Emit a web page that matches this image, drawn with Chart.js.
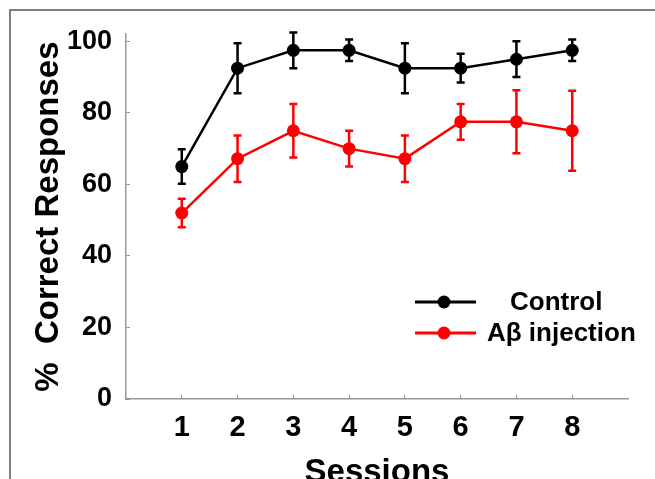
<!DOCTYPE html>
<html>
<head>
<meta charset="utf-8">
<script src="https://cdn.jsdelivr.net/npm/chart.js@4/dist/chart.umd.min.js"></script>
<style>
  html, body { margin: 0; padding: 0; background: #fff; overflow: hidden; }
  #wrap { position: relative; width: 655px; height: 479px; overflow: hidden; }
  #frame { position: absolute; left: 9px; top: 9px; width: 700px; height: 600px; border: 2px solid #7f7f7f; box-sizing: border-box; }
  #cv { position: absolute; left: 0; top: 0; }
</style>
</head>
<body>
<div id="wrap">
  <div id="frame"></div>
  <canvas id="cv" width="655" height="493"></canvas>
</div>
<script>
// ---- data ----
const sessions = [1, 2, 3, 4, 5, 6, 7, 8];
const controlMean = [65, 92.5, 97.5, 97.5, 92.5, 92.5, 95, 97.5];
const controlErr  = [4.8, 7, 5, 3, 7, 4, 5, 3];
const abetaMean   = [52, 67.2, 75, 70, 67.2, 77.5, 77.5, 75];
const abetaErr    = [4, 6.5, 7.5, 5, 6.5, 5, 8.8, 11.2];
const yTicks = [0, 20, 40, 60, 80, 100];
const seriesNames = ['Control', 'A\u03B2 injection'];

const FONT = '"Liberation Sans", Arial, Helvetica, sans-serif';

const errorBars = {
  id: 'errorBars',
  afterDatasetsDraw(chart) {
    const ctx = chart.ctx;
    const xs = chart.scales.x, ys = chart.scales.y;
    chart.data.datasets.forEach((ds) => {
      ctx.save();
      ctx.strokeStyle = ds.borderColor;
      ctx.lineWidth = 2.5;
      ds.data.forEach((p, i) => {
        const e = ds.errors[i];
        const x = xs.getPixelForValue(p.x);
        const yt = ys.getPixelForValue(p.y + e);
        const yb = ys.getPixelForValue(p.y - e);
        ctx.beginPath();
        ctx.moveTo(x, yt); ctx.lineTo(x, yb);
        ctx.moveTo(x - 4, yt); ctx.lineTo(x + 4, yt);
        ctx.moveTo(x - 4, yb); ctx.lineTo(x + 4, yb);
        ctx.stroke();
      });
      ctx.restore();
    });
  }
};

const customLegend = {
  id: 'customLegend',
  afterDraw(chart) {
    const ctx = chart.ctx;
    const rows = [
      { y: 302, tx: 510 },
      { y: 333, tx: 487 }
    ];
    chart.data.datasets.forEach((ds, i) => {
      const r = rows[i];
      ctx.save();
      ctx.strokeStyle = ds.borderColor;
      ctx.lineWidth = 3;
      ctx.beginPath();
      ctx.moveTo(415, r.y); ctx.lineTo(476, r.y);
      ctx.stroke();
      ctx.fillStyle = ds.borderColor;
      ctx.beginPath();
      ctx.arc(444, r.y, 6.5, 0, Math.PI * 2);
      ctx.fill();
      ctx.fillStyle = '#000';
      ctx.font = 'bold 26px ' + FONT;
      ctx.textBaseline = 'middle';
      ctx.textAlign = 'left';
      ctx.fillText(ds.label, r.tx, r.y + 1);
      ctx.restore();
    });
  }
};

const mk = (xs, ys) => xs.map((x, i) => ({ x: x, y: ys[i] }));

new Chart(document.getElementById('cv'), {
  type: 'line',
  data: {
    datasets: [
      {
        label: seriesNames[0],
        data: mk(sessions, controlMean),
        errors: controlErr,
        borderColor: '#000000',
        backgroundColor: '#000000',
        borderWidth: 2.5,
        pointRadius: 6.5,
        pointBackgroundColor: '#000000',
        pointBorderWidth: 0,
        tension: 0
      },
      {
        label: seriesNames[1],
        data: mk(sessions, abetaMean),
        errors: abetaErr,
        borderColor: '#ff0000',
        backgroundColor: '#ff0000',
        borderWidth: 2.5,
        pointRadius: 6.5,
        pointBackgroundColor: '#ff0000',
        pointBorderWidth: 0,
        tension: 0
      }
    ]
  },
  options: {
    responsive: false,
    animation: false,
    events: [],
    layout: { padding: { left: 0, right: 27, top: 30, bottom: 0 } },
    plugins: {
      legend: { display: false },
      tooltip: { enabled: false }
    },
    scales: {
      x: {
        type: 'linear',
        min: 0,
        max: 9,
        afterBuildTicks: (s) => { s.ticks = sessions.map(v => ({ value: v })); },
        afterFit: (s) => { s.height = 493 - 399; },
        grid: { drawOnChartArea: false, tickLength: -4, color: '#999999', lineWidth: 1 },
        border: { color: '#999999', width: 1.5 },
        ticks: {
          padding: 16,
          color: '#000',
          font: { family: FONT, size: 29, weight: 'bold' },
          maxRotation: 0,
          autoSkip: false
        },
        title: {
          display: true,
          text: 'Sessions',
          color: '#000',
          padding: { top: 0, bottom: 0 },
          font: { family: FONT, size: 33, weight: 'bold' }
        }
      },
      y: {
        type: 'linear',
        min: 0,
        max: 102,
        afterBuildTicks: (s) => { s.ticks = yTicks.map(v => ({ value: v })); },
        afterFit: (s) => { s.width = 126; },
        grid: { drawOnChartArea: false, tickLength: -4, color: '#999999', lineWidth: 1 },
        border: { color: '#999999', width: 1.5 },
        ticks: {
          padding: 18,
          color: '#000',
          font: { family: FONT, size: 27, weight: 'bold' }
        },
        title: {
          display: true,
          text: '%  Correct Responses',
          color: '#000',
          padding: { top: 29, bottom: 0 },
          font: { family: FONT, size: 33, weight: 'bold' }
        }
      }
    }
  },
  plugins: [errorBars, customLegend]
});
</script>
</body>
</html>
